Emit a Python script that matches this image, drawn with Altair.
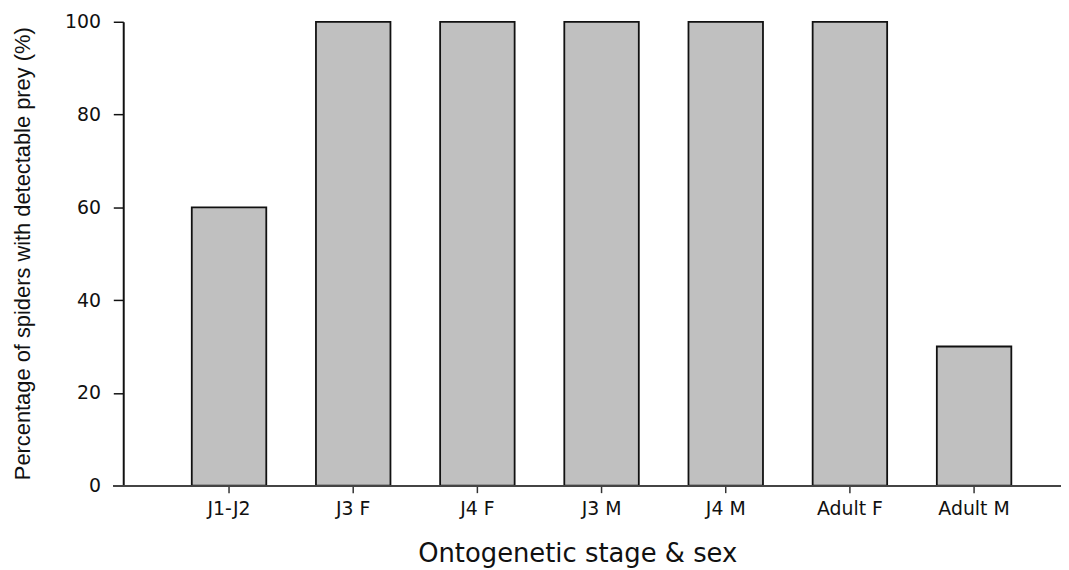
import altair as alt
import pandas as pd

stages = ["J1-J2", "J3 F", "J4 F", "J3 M", "J4 M", "Adult F", "Adult M"]
percent = [60, 100, 100, 100, 100, 100, 30]

df = pd.DataFrame({"stage": stages, "pct": percent})

W, H = 944, 467

bars = alt.Chart(df).mark_bar(
    fill="#c0c0c0", stroke="#111111", strokeWidth=1.8
).encode(
    x=alt.X("stage:N", sort=stages,
            scale=alt.Scale(range=[44, 919], paddingInner=0.4, paddingOuter=0.2),
            axis=alt.Axis(title="Ontogenetic stage & sex", labelAngle=0,
                          domain=False, tickSize=7, tickColor="#333333", tickWidth=1.5,
                          labelFont="DejaVu Sans", labelFontSize=19, labelColor="#111111",
                          labelPadding=7,
                          titleFont="DejaVu Sans", titleFontSize=26, titleFontWeight="normal",
                          titleColor="#111111", titleX=457, titleY=76,
                          titleBaseline="alphabetic", titleAnchor="middle", titleAlign="center")),
    y=alt.Y("pct:Q", scale=alt.Scale(domain=[0, 100], nice=False),
            axis=alt.Axis(title="Percentage of spiders with detectable prey (%)",
                          values=[0, 20, 40, 60, 80, 100], grid=False,
                          domainColor="#111111", domainWidth=2,
                          tickSize=10, tickColor="#111111", tickWidth=1.5,
                          labelFont="DejaVu Sans", labelFontSize=19, labelColor="#111111",
                          labelPadding=13,
                          titleFont="Liberation Sans", titleFontSize=22,
                          titleFontWeight="normal", titleColor="#111111",
                          titleX=-101, titleY=233, titleAngle=270,
                          titleBaseline="middle", titleAlign="center")),
)

xline = alt.Chart(df).mark_rule(color="#444444", strokeWidth=1.5).encode(
    x=alt.value(-10), x2=alt.value(W), y=alt.value(H)
)

chart = alt.layer(bars, xline).properties(
    width=W, height=H,
    background="white",
    autosize=alt.AutoSizeParams(type="none"),
    padding={"left": 116, "top": 12, "right": 0, "bottom": 82},
).configure_view(stroke=None)

chart.save("out.html", embed_options={"renderer": "svg", "actions": False})
